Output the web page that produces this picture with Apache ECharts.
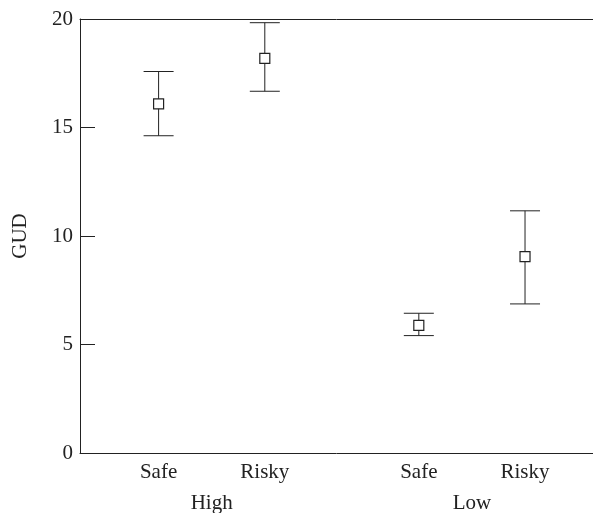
<!DOCTYPE html>
<html>
<head>
<meta charset="utf-8">
<script src="https://cdn.jsdelivr.net/npm/echarts@6/dist/echarts.min.js"></script>
<style>
  html, body { margin: 0; padding: 0; background: #fff; }
  #chart { width: 593px; height: 513px; }
</style>
</head>
<body>
<div id="chart"></div>
<script>
// conditions: predation risk (High/Low) x patch (Safe/Risky)
const categories = ['Safe', 'Risky', 'Safe', 'Risky'];
const groups = ['High', 'Low'];
const groupOf = [0, 0, 1, 1];
const xPos = [1, 2, 3.45, 4.45];
const means = [16.09, 18.19, 5.88, 9.05];
const upper = [17.58, 19.83, 6.44, 11.16];
const lower = [14.62, 16.67, 5.41, 6.87];
const yTicks = [0, 5, 10, 15, 20];

const font = 'Liberation Serif';
const ink = '#222';

const chart = echarts.init(document.getElementById('chart'));

const barData = xPos.map((x, i) => [x, lower[i], upper[i]]);
const meanData = xPos.map((x, i) => [x, means[i]]);
const labelData = xPos.map((x, i) => [x, categories[i]]);
// group label sits in the middle of its two categories
const groupData = groups.map((g, gi) => {
  const xs = xPos.filter((x, i) => groupOf[i] === gi);
  return [(xs[0] + xs[xs.length - 1]) / 2, g];
});

chart.setOption({
  animation: false,
  grid: { left: 80, right: 0, top: 19, bottom: 60 },
  xAxis: [
    {
      type: 'value',
      min: 0.26,
      max: 5.09,
      splitLine: { show: false },
      axisTick: { show: false },
      axisLabel: { show: false },
      axisLine: { show: true, lineStyle: { color: ink, width: 1 } }
    },
    {
      type: 'value',
      position: 'top',
      min: 0.26,
      max: 5.09,
      splitLine: { show: false },
      axisTick: { show: false },
      axisLabel: { show: false },
      axisLine: { show: true, lineStyle: { color: ink, width: 1 } }
    }
  ],
  yAxis: {
    type: 'value',
    min: yTicks[0],
    max: yTicks[yTicks.length - 1],
    interval: 5,
    name: 'GUD',
    nameLocation: 'middle',
    nameGap: 49,
    nameTextStyle: { fontFamily: font, fontSize: 21, color: ink },
    splitLine: { show: false },
    axisLine: { show: true, lineStyle: { color: ink, width: 1 } },
    axisTick: { show: true, inside: true, length: 15, lineStyle: { color: ink, width: 1 } },
    axisLabel: { fontFamily: font, fontSize: 21, color: ink, margin: 7 }
  },
  series: [
    {
      type: 'custom',
      data: barData,
      renderItem: function (params, api) {
        const x = api.value(0);
        const lo = api.coord([x, api.value(1)]);
        const hi = api.coord([x, api.value(2)]);
        const half = 15;
        const style = { stroke: ink, lineWidth: 1 };
        return {
          type: 'group',
          children: [
            { type: 'line', shape: { x1: lo[0], y1: lo[1], x2: hi[0], y2: hi[1] }, style: style },
            { type: 'line', shape: { x1: hi[0] - half, y1: hi[1], x2: hi[0] + half, y2: hi[1] }, style: style },
            { type: 'line', shape: { x1: lo[0] - half, y1: lo[1], x2: lo[0] + half, y2: lo[1] }, style: style }
          ]
        };
      },
      z: 2
    },
    {
      type: 'scatter',
      data: meanData,
      symbol: 'rect',
      symbolSize: 10,
      itemStyle: { color: '#fff', borderColor: ink, borderWidth: 1.2, opacity: 1 },
      z: 3
    },
    {
      // category labels under the axis
      type: 'custom',
      data: labelData,
      clip: false,
      silent: true,
      renderItem: function (params, api) {
        const p = api.coord([api.value(0), 0]);
        return {
          type: 'text',
          style: {
            x: p[0], y: p[1] + 19,
            text: categories[params.dataIndex],
            fill: ink,
            font: '21px "' + font + '"',
            align: 'center',
            verticalAlign: 'middle'
          }
        };
      }
    },
    {
      // group labels
      type: 'custom',
      data: groupData,
      clip: false,
      silent: true,
      renderItem: function (params, api) {
        const p = api.coord([api.value(0), 0]);
        return {
          type: 'text',
          style: {
            x: p[0], y: p[1] + 50,
            text: groups[params.dataIndex],
            fill: ink,
            font: '21px "' + font + '"',
            align: 'center',
            verticalAlign: 'middle'
          }
        };
      }
    }
  ]
});
</script>
</body>
</html>
